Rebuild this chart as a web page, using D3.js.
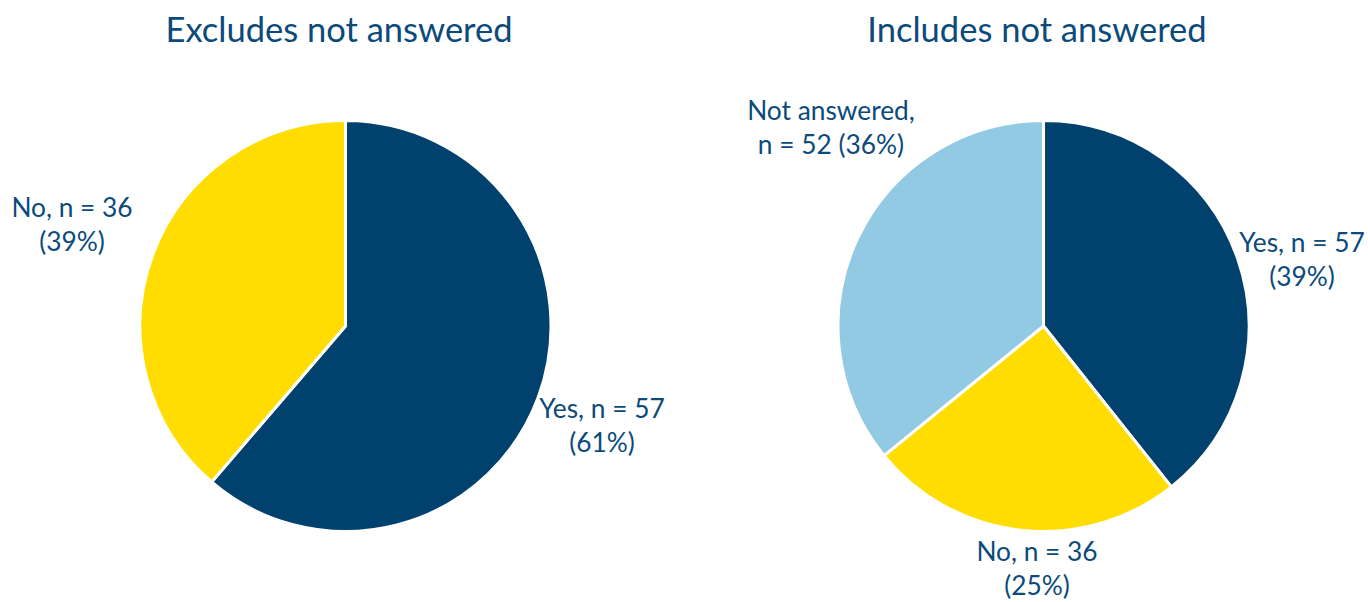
<!DOCTYPE html>
<html>
<head>
<meta charset="utf-8">
<script src="https://cdn.jsdelivr.net/npm/d3@7"></script>
<style>
  html, body { margin: 0; padding: 0; background: #fff; }
  svg { display: block; }
  text { font-family: Lato, "Open Sans", sans-serif; fill: #0b4a7b; }
</style>
</head>
<body>
<svg id="chart" width="1368" height="602"></svg>
<script>
// Survey responses, with and without the "not answered" group
const excludesCategories = ["Yes", "No"];
const excludesValues = [57, 36];
const excludesLabels = [["Yes, n = 57", "(61%)"], ["No, n = 36", "(39%)"]];

const includesCategories = ["Yes", "No", "Not answered"];
const includesValues = [57, 36, 52];
const includesLabels = [["Yes, n = 57", "(39%)"], ["No, n = 36", "(25%)"], ["Not answered,", "n = 52 (36%)"]];

const titles = ["Excludes not answered", "Includes not answered"];

const color = d3.scaleOrdinal()
  .domain(["Yes", "No", "Not answered"])
  .range(["#00416e", "#ffdd00", "#92cae3"]);

const svg = d3.select("#chart");
const radius = 205.5;
const pie = d3.pie().sort(null).value(d => d.value);
const arc = d3.arc().innerRadius(0).outerRadius(radius);

function drawPie(cx, cy, title, titleX, cats, vals, labels, labelPos) {
  const data = cats.map((c, i) => ({ cat: c, value: vals[i], label: labels[i] }));
  const g = svg.append("g").attr("transform", `translate(${cx},${cy})`);

  g.selectAll("path")
    .data(pie(data))
    .join("path")
    .attr("d", arc)
    .attr("fill", d => color(d.data.cat))
    .attr("stroke", "#fff")
    .attr("stroke-width", 3)
    .attr("stroke-linejoin", "round");

  svg.append("text")
    .attr("x", titleX)
    .attr("y", 42)
    .attr("text-anchor", "middle")
    .attr("font-size", 34.5)
    .text(title);

  // Data labels placed outside the slices
  data.forEach((d, i) => {
    const [lx, ly] = labelPos[i];
    const t = svg.append("text")
      .attr("text-anchor", "middle")
      .attr("font-size", 26.3);
    d.label.forEach((line, j) => {
      t.append("tspan")
        .attr("x", lx)
        .attr("y", ly + j * 34)
        .text(line);
    });
  });
}

drawPie(345.5, 326, titles[0], 339, excludesCategories, excludesValues, excludesLabels,
  [[602, 418], [72, 217]]);
drawPie(1043.5, 326, titles[1], 1037, includesCategories, includesValues, includesLabels,
  [[1302, 252], [1037, 561], [831, 120]]);
</script>
</body>
</html>
